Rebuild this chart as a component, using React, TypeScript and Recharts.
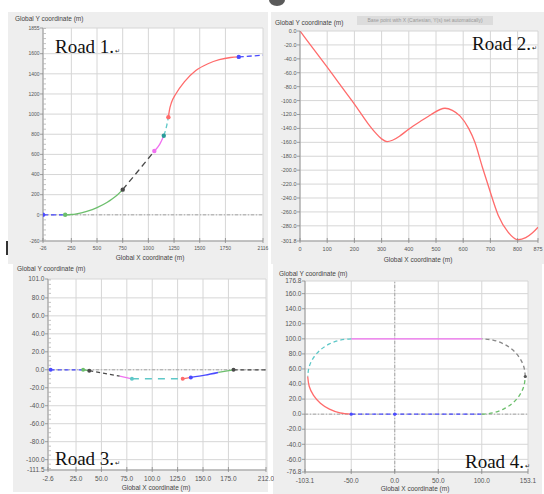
import {
  CartesianGrid,
  ComposedChart,
  Line,
  ReferenceLine,
  Scatter,
  XAxis,
  YAxis,
} from 'recharts';

// ---- Road 1 (m) ----
const road1Entry = [[-26, 0], [190, 0]];
const road1Green = [[190, 0], [250, 3], [300, 10], [400, 35], [500, 72], [600, 125], [650, 160], [700, 200], [750, 250]];
const road1Dark = [[750, 250], [900, 435], [1058, 633]];
const road1Magenta = [[1058, 633], [1110, 700], [1150, 785]];
const road1Cyan = [[1150, 785], [1175, 870], [1195, 970]];
const road1Red = [[1195, 970], [1205, 1040], [1225, 1115], [1267, 1200], [1350, 1320], [1462, 1433], [1580, 1500], [1690, 1540], [1800, 1562], [1880, 1568]];
const road1Exit = [[1880, 1568], [2116, 1585]];
const road1Nodes = [[-26, 0], [190, 0], [750, 250], [1058, 633], [1150, 785], [1195, 970], [1880, 1568]];

// ---- Road 2 (m) ----
const road2Line = [
  [0, 0], [50, -26], [100, -52], [143, -75], [200, -105], [250, -133], [277, -146], [300, -155],
  [320, -159], [340, -157], [370, -150], [400, -141], [450, -128], [478, -121], [533, -111], [560, -114],
  [588, -122], [620, -140], [643, -160], [670, -195], [692, -222], [729, -265], [765, -289],
  [802, -300], [830, -297], [855, -290], [875, -282],
];

// ---- Road 3 (m) ----
const road3Entry = [[0, 0], [32, 0]];
const road3Green = [[32, 0], [38, -1]];
const road3Dark = [[38, -1], [53, -4], [68, -7]];
const road3Magenta = [[68, -7], [80, -10]];
const road3Cyan = [[80, -10], [130, -10]];
const road3Red = [[130, -10], [138, -8.5]];
const road3Blue = [[138, -8.5], [152, -6], [165, -3]];
const road3Green2 = [[165, -3], [180, 0]];
const road3Exit = [[180, 0], [212, 0]];
const road3Nodes = [[0, 0], [32, 0], [38, -1], [80, -10], [130, -10], [138, -8.5], [180, 0]];

// ---- Road 4 (m) ----
const road4Bottom = [[-50, 0], [0, 0], [100, 0]];
const road4RightLow = [[100, 0], [112.9, 1.7], [125, 6.7], [135.4, 14.6], [143.3, 25], [148.3, 37.1], [150, 50]];
const road4RightHigh = [[150, 50], [148.3, 62.9], [143.3, 75], [135.4, 85.4], [125, 93.3], [112.9, 98.3], [100, 100]];
const road4Top = [[100, 100], [-50, 100]];
const road4LeftHigh = [[-50, 100], [-62.9, 98.3], [-75, 93.3], [-85.4, 85.4], [-93.3, 75], [-98.3, 62.9], [-100, 50]];
const road4LeftLow = [[-100, 50], [-98.3, 37.1], [-93.3, 25], [-85.4, 14.6], [-75, 6.7], [-62.9, 1.7], [-50, 0]];
const road4Nodes = [[-50, 0], [0, 0], [150, 50]];

// ---- axis ticks ----
const r1XTicks = [-26, 250, 500, 750, 1000, 1250, 1500, 1750, 2116];
const r1YTicks = [-260, 0, 200, 400, 600, 800, 1000, 1200, 1400, 1600, 1855];
const r2XTicks = [0, 100, 200, 300, 400, 500, 600, 700, 800, 875];
const r2YTicks = [0, -20, -40, -60, -80, -100, -120, -140, -160, -180, -200, -220, -240, -260, -280, -301.8];
const r3XTicks = [-2.6, 25, 50, 75, 100, 125, 150, 175, 212];
const r3YTicks = [101, 80, 60, 40, 20, 0, -20, -40, -60, -80, -100, -111.5];
const r4XTicks = [-103.1, -50, 0, 50, 100, 153.1];
const r4YTicks = [176.8, 160, 140, 120, 100, 80, 60, 40, 20, 0, -20, -40, -60, -76.8];

const BLUE = '#4a4aff';
const GREEN = '#6cbf6c';
const DARK = '#4a4a4a';
const MAGENTA = '#f070f0';
const CYAN = '#5ec8c8';
const RED = '#ff6b6b';
const TICK_FONT = 'Liberation Sans, Arial, sans-serif';

type Pt = { x: number; y: number };
type Seg = { pts: Pt[]; color: string; dash?: string; curve?: 'linear' | 'monotone' | 'natural' };
type Mark = Pt & { color: string; r: number };

const pts = (arr: number[][]): Pt[] => arr.map(([x, y]) => ({ x, y }));
const marks = (arr: number[][], colors: string[], r = 2): Mark[] =>
  arr.map(([x, y], i) => ({ x, y, color: colors[i], r }));

// minor ruler ticks on the Y axis
const minorTicks = (from: number, to: number, step: number, majors: number[]) => {
  const out: number[] = [];
  for (let v = from; v <= to; v += step) if (!majors.includes(v)) out.push(v);
  return out;
};

const yTickRenderer = (majors: number[], fmt: (v: number) => string, fs: number) =>
  (props: any) => {
    const { x, y, payload } = props;
    const v = payload.value as number;
    if (!majors.includes(v)) {
      return <line x1={x} x2={x + 3} y1={y} y2={y} stroke="#b4b4b4" strokeWidth={0.8} />;
    }
    return (
      <g>
        <line x1={x - 3} x2={x} y1={y} y2={y} stroke="#888" strokeWidth={0.8} />
        <text x={x - 3.5} y={y + fs * 0.35} textAnchor="end" fontSize={fs} fill="#555" fontFamily={TICK_FONT}>
          {fmt(v)}
        </text>
      </g>
    );
  };

const xTickRenderer = (fmt: (v: number) => string, fs: number) => (props: any) => {
  const { x, y, payload } = props;
  return (
    <g>
      <line x1={x} x2={x} y1={y - 3} y2={y + 2} stroke="#888" strokeWidth={0.8} />
      <text x={x} y={y + 4 + fs} textAnchor="middle" fontSize={fs} fill="#555" fontFamily={TICK_FONT}>
        {fmt(payload.value)}
      </text>
    </g>
  );
};

interface PanelProps {
  left: number;
  top: number;
  width: number;
  height: number;
  mt: number;
  mr: number;
  wy: number;
  hx: number;
  xDomain: [number, number];
  yDomain: [number, number];
  xTicks: number[];
  yTicks: number[];
  yMinor?: number[];
  xGrid: number[];
  yGrid: number[];
  xFmt: (v: number) => string;
  yFmt: (v: number) => string;
  fs: number;
  segments: Seg[];
  nodes: Mark[];
  zeroX?: boolean;
  zeroY?: boolean;
}

function Panel(p: PanelProps) {
  const allY = [...p.yTicks, ...(p.yMinor ?? [])];
  return (
    <div style={{ position: 'absolute', left: p.left, top: p.top }}>
      <ComposedChart width={p.width} height={p.height} margin={{ top: p.mt, right: p.mr, left: 0, bottom: 0 }}>
        <CartesianGrid
          stroke="#d6d6d6"
          fill="#ffffff"
          horizontalValues={[p.yDomain[0], ...p.yGrid, p.yDomain[1]]}
          verticalValues={[p.xDomain[0], ...p.xGrid, p.xDomain[1]]}
        />
        <XAxis
          type="number"
          dataKey="x"
          domain={p.xDomain}
          ticks={p.xTicks}
          interval={0}
          allowDataOverflow
          height={p.hx}
          tickSize={0}
          tickMargin={0}
          tickLine={false}
          axisLine={{ stroke: '#999' }}
          tick={xTickRenderer(p.xFmt, p.fs)}
        />
        <YAxis
          type="number"
          dataKey="y"
          domain={p.yDomain}
          ticks={allY}
          interval={0}
          allowDataOverflow
          width={p.wy}
          tickSize={0}
          tickMargin={0}
          tickLine={false}
          axisLine={{ stroke: '#999' }}
          tick={yTickRenderer(p.yTicks, p.yFmt, p.fs)}
        />
        {p.zeroY && <ReferenceLine y={0} stroke="#a8a8a8" strokeDasharray="3 2 1 2" />}
        {p.zeroX && <ReferenceLine x={0} stroke="#a8a8a8" strokeDasharray="3 2 1 2" />}
        {p.segments.map((s, i) => (
          <Line
            key={i}
            data={s.pts}
            dataKey="y"
            type={s.curve ?? 'monotone'}
            stroke={s.color}
            strokeWidth={1.3}
            strokeDasharray={s.dash}
            dot={false}
            activeDot={false}
            isAnimationActive={false}
          />
        ))}
        {p.nodes.length > 0 && (
          <Scatter
            data={p.nodes}
            dataKey="y"
            isAnimationActive={false}
            shape={(s: any) => <circle cx={s.cx} cy={s.cy} r={s.payload.r} fill={s.payload.color} />}
          />
        )}
      </ComposedChart>
    </div>
  );
}

const road1Segments: Seg[] = [
  { pts: pts(road1Entry), color: BLUE, dash: '5 3' },
  { pts: pts(road1Green), color: GREEN },
  { pts: pts(road1Dark), color: DARK, dash: '6 4' },
  { pts: pts(road1Magenta), color: MAGENTA },
  { pts: pts(road1Cyan), color: CYAN, dash: '5 3' },
  { pts: pts(road1Red), color: RED },
  { pts: pts(road1Exit), color: BLUE, dash: '5 3' },
];
const road1Marks = marks(road1Nodes, [BLUE, GREEN, DARK, MAGENTA, '#2a9a9a', RED, BLUE], 2.2);

const road2Segments: Seg[] = [{ pts: pts(road2Line), color: RED }];

const road3Segments: Seg[] = [
  { pts: pts(road3Entry), color: BLUE, dash: '4 3' },
  { pts: pts(road3Green), color: GREEN },
  { pts: pts(road3Dark), color: DARK, dash: '4 3' },
  { pts: pts(road3Magenta), color: MAGENTA },
  { pts: pts(road3Cyan), color: CYAN, dash: '7 6' },
  { pts: pts(road3Red), color: RED },
  { pts: pts(road3Blue), color: BLUE },
  { pts: pts(road3Green2), color: GREEN },
  { pts: pts(road3Exit), color: DARK, dash: '4 3' },
];
const road3Marks = marks(road3Nodes, [BLUE, GREEN, DARK, CYAN, RED, BLUE, DARK], 2);

const road4Segments: Seg[] = [
  { pts: pts(road4Bottom), color: BLUE, dash: '4 3', curve: 'linear' },
  { pts: pts(road4RightLow), color: GREEN, dash: '4 3', curve: 'natural' },
  { pts: pts(road4RightHigh), color: '#888', dash: '4 3', curve: 'natural' },
  { pts: pts(road4Top), color: MAGENTA, curve: 'linear' },
  { pts: pts(road4LeftHigh), color: CYAN, dash: '4 3', curve: 'natural' },
  { pts: pts(road4LeftLow), color: RED, curve: 'natural' },
];
const road4Marks = marks(road4Nodes, [BLUE, BLUE, '#555'], 1.6);

const int = (v: number) => String(v);
const one = (v: number) => v.toFixed(1);

const titleStyle: React.CSSProperties = {
  position: 'absolute',
  fontFamily: TICK_FONT,
  fontSize: 6.5,
  lineHeight: 1,
  color: '#444',
  whiteSpace: 'nowrap',
};

const roadStyle: React.CSSProperties = {
  position: 'absolute',
  fontFamily: 'Liberation Serif, Times New Roman, serif',
  fontSize: 19,
  lineHeight: 1,
  color: '#111',
  whiteSpace: 'nowrap',
};

function RoadLabel({ text, left, top }: { text: string; left: number; top: number }) {
  return (
    <div style={{ ...roadStyle, left, top }}>
      {text}
      <span style={{ fontSize: 6, marginLeft: 1 }}>↵</span>
    </div>
  );
}

export default function App() {
  return (
    <div style={{ position: 'absolute', left: 0, top: 0, width: 544, height: 494, background: '#fff', overflow: 'hidden' }}>
      {/* panel backgrounds */}
      <div style={{ position: 'absolute', left: 8, top: 12, width: 260, height: 252, background: '#eeeeee' }} />
      <div style={{ position: 'absolute', left: 271, top: 12, width: 273, height: 252, background: '#eeeeee' }} />
      <div style={{ position: 'absolute', left: 13, top: 262, width: 255, height: 230, background: '#eeeeee' }} />
      <div style={{ position: 'absolute', left: 273, top: 264, width: 269, height: 230, background: '#eeeeee' }} />
      <div style={{ position: 'absolute', left: 269, top: -6, width: 16, height: 12, borderRadius: '50%', background: '#5a5a5a' }} />
      <div style={{ position: 'absolute', left: 6, top: 241, width: 2, height: 14, background: '#333' }} />

      <Panel
        left={9} top={20} width={264} height={235} mt={8} mr={10} wy={34} hx={14}
        xDomain={[-26, 2116]} yDomain={[-260, 1855]}
        xTicks={r1XTicks} yTicks={r1YTicks}
        yMinor={minorTicks(-250, 1850, 50, r1YTicks)}
        xGrid={r1XTicks.slice(1, -1)} yGrid={r1YTicks.slice(1, -1)}
        xFmt={int} yFmt={int} fs={5}
        segments={road1Segments} nodes={road1Marks} zeroY
      />
      <Panel
        left={270} top={23} width={274} height={232} mt={8} mr={6} wy={30} hx={14}
        xDomain={[0, 875]} yDomain={[-301.8, 0]}
        xTicks={r2XTicks} yTicks={r2YTicks}
        xGrid={r2XTicks.slice(1, -1)} yGrid={r2YTicks.slice(1, -1)}
        xFmt={int} yFmt={one} fs={5.5}
        segments={road2Segments} nodes={[]}
      />
      <Panel
        left={14} top={271} width={260} height={213} mt={8} mr={8} wy={34} hx={14}
        xDomain={[-2.6, 212]} yDomain={[-111.5, 101]}
        xTicks={r3XTicks} yTicks={r3YTicks}
        yMinor={minorTicks(-110, 100, 5, r3YTicks)}
        xGrid={r3XTicks.slice(1, -1)} yGrid={r3YTicks.slice(1, -1)}
        xFmt={one} yFmt={one} fs={6.5}
        segments={road3Segments} nodes={road3Marks} zeroY
      />
      <Panel
        left={273} top={273} width={267} height={213} mt={8} mr={12} wy={32} hx={14}
        xDomain={[-103.1, 153.1]} yDomain={[-76.8, 176.8]}
        xTicks={r4XTicks} yTicks={r4YTicks}
        xGrid={r4XTicks.slice(1, -1)} yGrid={r4YTicks.slice(1, -1)}
        xFmt={one} yFmt={one} fs={6.5}
        segments={road4Segments} nodes={road4Marks} zeroX zeroY
      />

      {/* axis titles */}
      <div style={{ ...titleStyle, left: 15, top: 16 }}>Global Y coordinate (m)</div>
      <div style={{ ...titleStyle, left: 150, top: 255, transform: 'translateX(-50%)' }}>Global X coordinate (m)</div>
      <div style={{ ...titleStyle, left: 275, top: 19.5 }}>Global Y coordinate (m)</div>
      <div
        style={{
          ...titleStyle, left: 357, top: 16, width: 136, height: 9, background: '#dcdcdc',
          color: '#9a9a9a', fontSize: 5, lineHeight: '9px', textAlign: 'center', overflow: 'hidden',
        }}
      >
        Base point with X (Cartesian, Y(s) set automatically)
      </div>
      <div style={{ ...titleStyle, left: 418, top: 257, transform: 'translateX(-50%)' }}>Global X coordinate (m)</div>
      <div style={{ ...titleStyle, left: 17, top: 266 }}>Global Y coordinate (m)</div>
      <div style={{ ...titleStyle, left: 156, top: 485, transform: 'translateX(-50%)' }}>Global X coordinate (m)</div>
      <div style={{ ...titleStyle, left: 279, top: 271 }}>Global Y coordinate (m)</div>
      <div style={{ ...titleStyle, left: 415, top: 486, transform: 'translateX(-50%)' }}>Global X coordinate (m)</div>

      <RoadLabel text="Road 1." left={55} top={37} />
      <RoadLabel text="Road 2." left={472} top={34} />
      <RoadLabel text="Road 3." left={55} top={449} />
      <RoadLabel text="Road 4." left={465} top={452} />
    </div>
  );
}
